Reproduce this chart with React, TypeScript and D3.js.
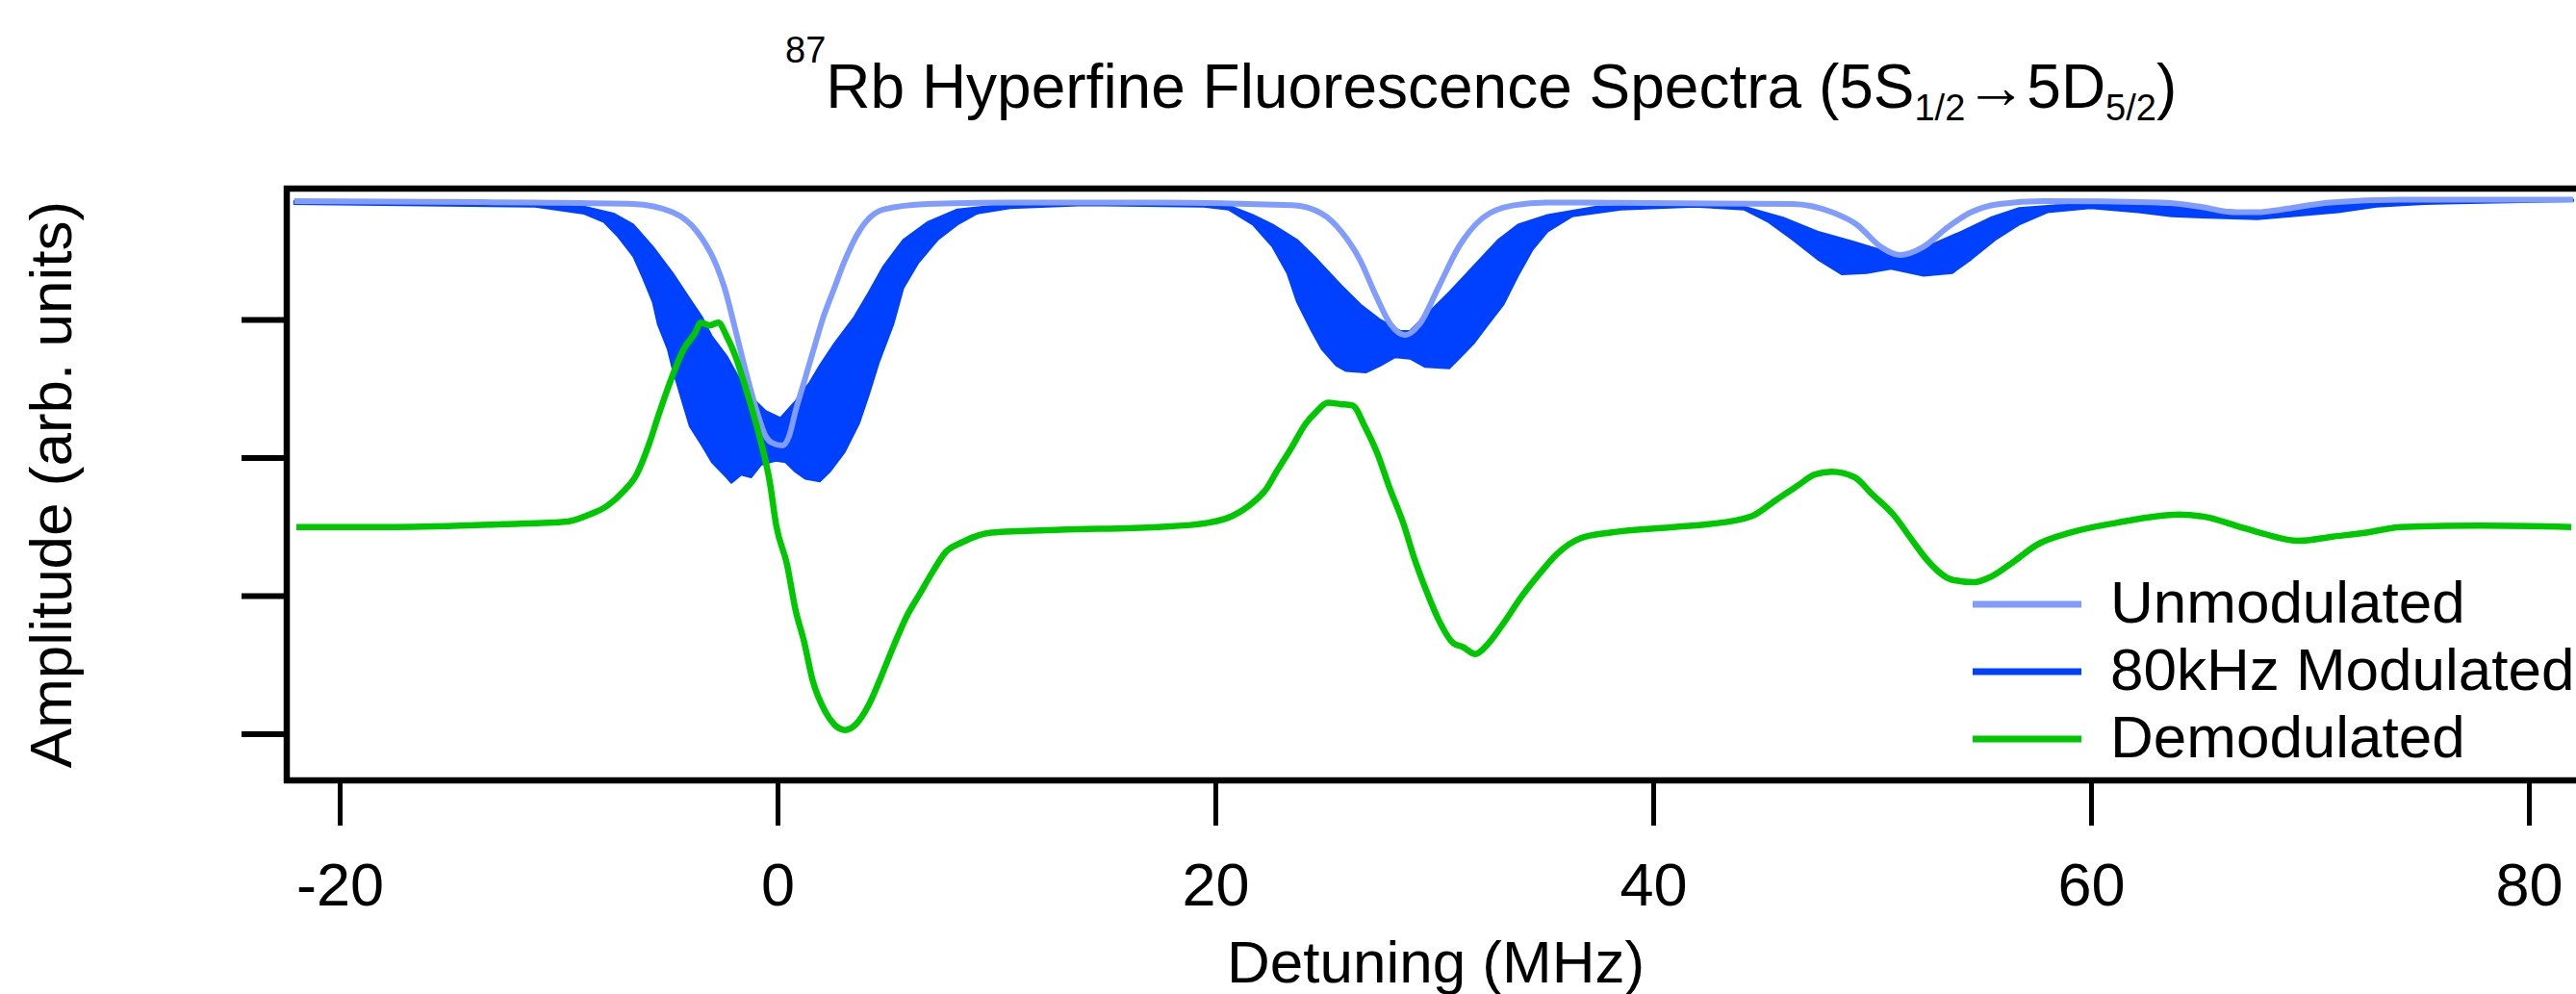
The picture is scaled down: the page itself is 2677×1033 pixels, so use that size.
import React from "react";
import * as d3 from "d3";

// ---- Data (x in MHz detuning, y in arbitrary units) ----
const unmodulated: [number, number][] = [
  [-22.1, 4.86], [-16, 4.855], [-11.1, 4.85], [-6.61, 4.84], [-4.82, 4.78], [-3.7, 4.64], [-2.8, 4.39],
  [-2.44, 4.23], [-1.95, 3.93], [-1.46, 3.62], [-0.97, 3.34], [-0.57, 3.16], [-0.28, 3.11],
  [0.21, 3.09], [0.51, 3.16], [0.8, 3.34], [1.19, 3.55], [1.58, 3.76], [2.07, 4.02], [2.57, 4.23],
  [3.0, 4.41], [3.7, 4.64], [4.82, 4.8], [6.84, 4.84], [10.61, 4.85], [17.21, 4.85], [23.5, 4.83],
  [24.83, 4.77], [25.73, 4.64], [26.6, 4.43], [27.3, 4.18], [27.97, 3.97], [28.64, 3.89],
  [29.31, 3.97], [30.21, 4.25], [31.1, 4.53], [32.2, 4.74], [33.6, 4.83], [35.1, 4.85],
  [46.35, 4.84], [48.15, 4.78], [49.28, 4.69], [50.37, 4.53], [51.24, 4.47], [52.33, 4.53],
  [53.42, 4.67], [54.5, 4.78], [55.8, 4.84], [57.8, 4.86], [63.2, 4.85], [64.96, 4.82],
  [66.5, 4.78], [67.6, 4.78], [68.7, 4.8], [70.9, 4.85], [74.1, 4.87], [82.0, 4.87],
];

const modulatedUpper: [number, number][] = [
  [-22.1, 4.86], [-11.1, 4.84], [-8.86, 4.82], [-7.51, 4.77], [-6.61, 4.69], [-5.72, 4.53],
  [-4.82, 4.34], [-4.15, 4.18], [-3.47, 4.02], [-3.02, 3.88], [-2.35, 3.74], [-1.68, 3.55],
  [-1.01, 3.41], [-0.56, 3.34], [0.11, 3.29], [0.79, 3.41], [1.46, 3.55], [1.91, 3.67],
  [2.58, 3.83], [3.48, 4.02], [4.15, 4.2], [4.82, 4.39], [5.72, 4.58], [6.85, 4.71],
  [8.19, 4.8], [10.61, 4.84], [17.21, 4.85], [20.57, 4.83], [21.69, 4.76], [22.59, 4.69],
  [23.71, 4.58], [24.61, 4.44], [25.73, 4.25], [26.62, 4.11], [27.52, 4.0], [28.42, 3.92],
  [28.87, 3.92], [29.76, 4.06], [30.66, 4.2], [31.78, 4.39], [32.9, 4.58], [33.8, 4.69],
  [35.15, 4.76], [37.39, 4.82], [41.87, 4.84], [44.12, 4.82], [45.91, 4.74], [47.48, 4.64],
  [49.05, 4.57], [50.5, 4.5], [51.46, 4.47], [52.77, 4.55], [54.07, 4.64], [55.38, 4.74],
  [56.69, 4.81], [58.43, 4.83], [61.04, 4.84], [63.66, 4.82], [65.84, 4.8], [67.58, 4.78],
  [69.76, 4.82], [71.93, 4.84], [75.2, 4.86], [82.0, 4.87],
];

const modulatedLower: [number, number][] = [
  [-22.1, 4.84], [-11.1, 4.82], [-8.86, 4.77], [-7.96, 4.71], [-7.29, 4.6], [-6.61, 4.46],
  [-6.16, 4.3], [-5.72, 4.13], [-5.49, 3.97], [-5.04, 3.79], [-4.82, 3.65], [-4.37, 3.41],
  [-4.03, 3.23], [-3.47, 3.09], [-3.02, 2.97], [-2.35, 2.86], [-2.13, 2.82], [-1.68, 2.88],
  [-1.23, 2.86], [-0.78, 2.95], [-0.11, 2.98], [0.34, 2.97], [0.79, 2.9], [1.24, 2.85],
  [1.91, 2.83], [2.36, 2.9], [3.03, 3.04], [3.7, 3.25], [4.15, 3.46], [4.6, 3.69],
  [5.27, 3.97], [5.72, 4.23], [6.39, 4.41], [7.29, 4.58], [8.19, 4.69], [9.09, 4.77],
  [10.61, 4.81], [14.0, 4.83], [19.45, 4.82], [20.57, 4.8], [21.69, 4.69], [22.59, 4.53],
  [23.26, 4.34], [23.71, 4.13], [24.38, 3.92], [24.83, 3.79], [25.5, 3.67], [25.95, 3.63],
  [26.85, 3.62], [27.52, 3.67], [28.19, 3.73], [28.87, 3.72], [29.54, 3.66], [30.66, 3.65],
  [31.11, 3.72], [31.78, 3.83], [32.45, 3.97], [33.13, 4.11], [33.8, 4.32], [34.47, 4.51],
  [35.15, 4.64], [36.27, 4.75], [38.51, 4.8], [41.87, 4.82], [44.12, 4.8], [45.24, 4.71],
  [46.36, 4.58], [47.48, 4.44], [48.6, 4.33], [49.72, 4.34], [50.84, 4.37], [52.33, 4.32],
  [53.64, 4.34], [54.51, 4.44], [55.6, 4.58], [56.69, 4.69], [57.99, 4.78], [59.95, 4.81],
  [62.13, 4.78], [63.66, 4.75], [65.4, 4.74], [67.58, 4.73], [69.76, 4.76], [71.28, 4.78],
  [73.02, 4.82], [75.2, 4.84], [82.0, 4.86],
];

const demodulated: [number, number][] = [
  [-22.0, 2.5], [-17.45, 2.5], [-12.55, 2.52], [-9.6, 2.54], [-8.62, 2.59], [-7.83, 2.65],
  [-7.05, 2.76], [-6.46, 2.88], [-5.87, 3.11], [-5.48, 3.3], [-5.09, 3.48], [-4.69, 3.65],
  [-4.3, 3.79], [-3.81, 3.9], [-3.52, 3.98], [-3.12, 3.96], [-2.73, 3.98], [-2.34, 3.88],
  [-1.95, 3.74], [-1.56, 3.55], [-1.16, 3.34], [-0.77, 3.11], [-0.38, 2.83], [-0.08, 2.51],
  [0.41, 2.23], [0.8, 1.9], [1.19, 1.67], [1.58, 1.39], [2.17, 1.16], [2.57, 1.07],
  [3.06, 1.03], [3.55, 1.07], [4.14, 1.21], [4.72, 1.42], [5.31, 1.65], [5.9, 1.86],
  [6.49, 2.02], [7.08, 2.18], [7.67, 2.32], [8.41, 2.39], [9.76, 2.46], [12.9, 2.48],
  [17.38, 2.5], [19.63, 2.53], [20.75, 2.58], [21.64, 2.67], [22.32, 2.78], [22.77, 2.9],
  [23.44, 3.07], [24.11, 3.25], [24.56, 3.33], [25.12, 3.4], [25.68, 3.39], [26.24, 3.38],
  [26.8, 3.23], [27.36, 3.04], [27.92, 2.79], [28.6, 2.51], [29.05, 2.28], [29.61, 2.04],
  [30.17, 1.83], [30.84, 1.66], [31.29, 1.63], [31.85, 1.58], [32.41, 1.65], [33.08, 1.79],
  [33.98, 2.0], [34.88, 2.18], [35.55, 2.3], [36.67, 2.42], [38.02, 2.46], [40.93, 2.5],
  [42.5, 2.52], [44.5, 2.58], [45.54, 2.69], [46.58, 2.8], [47.36, 2.88], [48.14, 2.9],
  [49.18, 2.86], [49.96, 2.74], [51.0, 2.58], [51.78, 2.41], [52.55, 2.25], [53.59, 2.12],
  [54.63, 2.1], [55.41, 2.14], [56.45, 2.25], [57.49, 2.37], [59.05, 2.46], [61.13, 2.53],
  [63.99, 2.59], [65.29, 2.57], [66.59, 2.51], [67.89, 2.45], [69.45, 2.4], [71.01, 2.43],
  [72.57, 2.46], [74.12, 2.5], [77.76, 2.51], [81.92, 2.5],
];

const xTicks = [-20, 0, 20, 40, 60, 80];
const yTicks = [1, 2, 3, 4];
const legendItems = ["Unmodulated", "80kHz Modulated", "Demodulated"];

const COLORS = { unmod: "#809cff", mod: "#0040ff", demod: "#00c800" };
const FONT = "'Liberation Sans', Arial, Helvetica, sans-serif";

export default function App() {
  const W = 2677;
  const H = 1033;
  const left = 298, right = 2687, top = 196, bottom = 811;

  const x = d3.scaleLinear().domain([-22.44, 82.57]).range([left, right]);
  const y = d3.scaleLinear().domain([0.665, 4.951]).range([bottom, top]);

  const line = d3
    .line<[number, number]>()
    .x((d) => x(d[0]))
    .y((d) => y(d[1]))
    .curveMonotoneX;

  const mk = d3
    .line<[number, number]>()
    .x((d) => x(d[0]))
    .y((d) => y(d[1]))
    .curve(d3.curveMonotoneX);

  const bandPts: [number, number][] = [...modulatedUpper, ...modulatedLower.slice().reverse()];
  const bandPath =
    d3
      .line<[number, number]>()
      .x((d) => x(d[0]))
      .y((d) => y(d[1]))
      .curve(d3.curveLinearClosed)(bandPts) || "";

  const legendColors = [COLORS.unmod, COLORS.mod, COLORS.demod];
  void line;

  return (
    <svg
      width={W}
      height={H}
      viewBox={`0 0 ${W} ${H}`}
      style={{ position: "absolute", left: 0, top: 0, display: "block", background: "#fff" }}
    >
      <defs>
        <clipPath id="plotClip">
          <rect x={left} y={top} width={right - left} height={bottom - top} />
        </clipPath>
      </defs>

      {/* Title */}
      <text x={816} y={112} fontFamily={FONT} fontSize={64} fill="#000">
        <tspan fontSize={38} dy={-47}>87</tspan>
        <tspan fontSize={64} dy={47}>Rb Hyperfine Fluorescence Spectra (5S</tspan>
        <tspan fontSize={38} dy={13}>1/2</tspan>
        <tspan fontSize={64} dy={-13}>→5D</tspan>
        <tspan fontSize={38} dy={13}>5/2</tspan>
        <tspan fontSize={64} dy={-13}>)</tspan>
      </text>

      {/* Data */}
      <g clipPath="url(#plotClip)">
        <path d={bandPath} fill={COLORS.mod} stroke={COLORS.mod} strokeWidth={2} strokeLinejoin="round" />
        <path d={mk(unmodulated) || ""} fill="none" stroke={COLORS.unmod} strokeWidth={6} strokeLinejoin="round" />
        <path d={mk(demodulated) || ""} fill="none" stroke={COLORS.demod} strokeWidth={6.5} strokeLinejoin="round" />
      </g>

      {/* Frame */}
      <rect x={left} y={top} width={right + 20 - left} height={bottom - top} fill="none" stroke="#000" strokeWidth={6.5} />

      {/* Y ticks */}
      {yTicks.map((t) => (
        <line key={t} x1={251} x2={left} y1={y(t)} y2={y(t)} stroke="#000" strokeWidth={6} />
      ))}

      {/* X ticks and labels */}
      {xTicks.map((t) => (
        <g key={t}>
          <line x1={x(t)} x2={x(t)} y1={bottom + 3} y2={858} stroke="#000" strokeWidth={5} />
          <text x={x(t)} y={941} textAnchor="middle" fontFamily={FONT} fontSize={63} fill="#000">
            {t}
          </text>
        </g>
      ))}

      {/* Axis labels */}
      <text x={1492} y={1021} textAnchor="middle" fontFamily={FONT} fontSize={62} fill="#000">
        Detuning (MHz)
      </text>
      <text
        transform={`translate(74, ${(top + bottom) / 2}) rotate(-90)`}
        textAnchor="middle"
        fontFamily={FONT}
        fontSize={62}
        fill="#000"
      >
        Amplitude (arb. units)
      </text>

      {/* Legend */}
      {legendItems.map((name, i) => (
        <g key={name}>
          <line x1={2050} x2={2163} y1={628 + i * 70} y2={628 + i * 70} stroke={legendColors[i]} strokeWidth={7} />
          <text x={2193} y={647 + i * 70} fontFamily={FONT} fontSize={62} fill="#000">
            {name}
          </text>
        </g>
      ))}
    </svg>
  );
}
